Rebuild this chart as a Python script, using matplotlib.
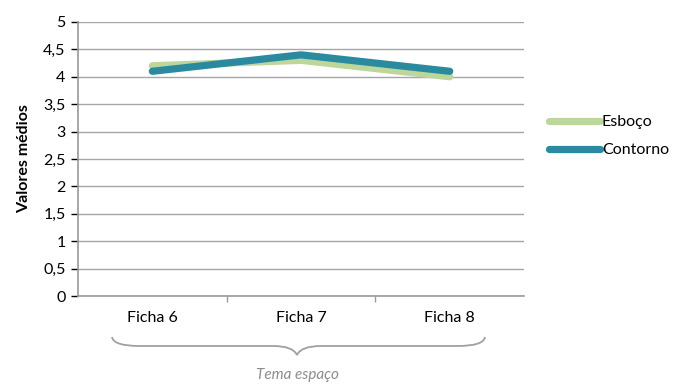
import matplotlib.pyplot as plt
from matplotlib.path import Path
from matplotlib import patches

fichas = ["Ficha 6", "Ficha 7", "Ficha 8"]
esboco = [4.2, 4.3, 4.0]
contorno = [4.1, 4.4, 4.1]
yticks = [0, 0.5, 1, 1.5, 2, 2.5, 3, 3.5, 4, 4.5, 5]
ytick_labels = ["0", "0,5", "1", "1,5", "2", "2,5", "3", "3,5", "4", "4,5", "5"]

plt.rcParams["font.family"] = ["Lato", "DejaVu Sans"]
plt.rcParams["font.size"] = 11

grey = "#9a9a9a"

fig = plt.figure(figsize=(6.78, 3.85), dpi=100)
ax = fig.add_axes([0.115, 0.231, 0.658, 0.712])

x = range(len(fichas))
ax.plot(x, esboco, color="#BDD69C", lw=5.2, solid_capstyle="round",
        solid_joinstyle="round", label="Esboço", zorder=3)
ax.plot(x, contorno, color="#2A8A9F", lw=5.2, solid_capstyle="round",
        solid_joinstyle="round", label="Contorno", zorder=4)

ax.set_xlim(-0.5, 2.5)
ax.set_ylim(0, 5)
ax.set_yticks(yticks)
ax.set_yticklabels(ytick_labels)
ax.set_xticks(list(x))
ax.set_xticklabels(fichas)
ax.tick_params(axis="x", length=0, pad=11)
ax.set_xticks([0.5, 1.5], minor=True)
ax.tick_params(axis="x", which="minor", length=4, color=grey, width=1)
ax.tick_params(axis="y", length=5, color=grey, width=1, pad=4)
ax.tick_params(labelsize=11.5, colors="black")

ax.grid(axis="y", color="#a6a6a6", lw=1)
ax.set_axisbelow(True)
for s in ["top", "right"]:
    ax.spines[s].set_visible(False)
for s in ["left", "bottom"]:
    ax.spines[s].set_color(grey)
    ax.spines[s].set_linewidth(1.2)

ax.set_ylabel("Valores médios", fontweight="bold", fontsize=11.5, labelpad=9)

leg = ax.legend(loc="center left", bbox_to_anchor=(1.024, 0.583), frameon=False,
                handlelength=3.2, handletextpad=0.1, labelspacing=0.85,
                fontsize=11.5)

# curly brace under the category labels
x0, x1, xm = 112 / 678, 485 / 678, 297 / 678
ytop, ymid, ybot = 1 - 337 / 385, 1 - 346 / 385, 1 - 355 / 385
verts = [
    (x0, ytop), (x0 + 0.002, ymid), (x0 + 0.04, ymid),
    (xm - 0.035, ymid), (xm - 0.006, ymid), (xm, ybot),
    (xm + 0.006, ymid), (xm + 0.035, ymid),
    (x1 - 0.04, ymid), (x1 - 0.002, ymid), (x1, ytop),
]
codes = [Path.MOVETO, Path.CURVE3, Path.CURVE3,
         Path.LINETO, Path.CURVE3, Path.CURVE3,
         Path.CURVE3, Path.CURVE3,
         Path.LINETO, Path.CURVE3, Path.CURVE3]
brace = patches.PathPatch(Path(verts, codes), transform=fig.transFigure,
                          fill=False, edgecolor="#a0a0a0", lw=1.3)
fig.add_artist(brace)

fig.text(xm, 1 - 375 / 385, "Tema espaço", ha="center", va="center",
         style="italic", color="#8c8c8c", fontsize=11)

fig.savefig("out.png")
